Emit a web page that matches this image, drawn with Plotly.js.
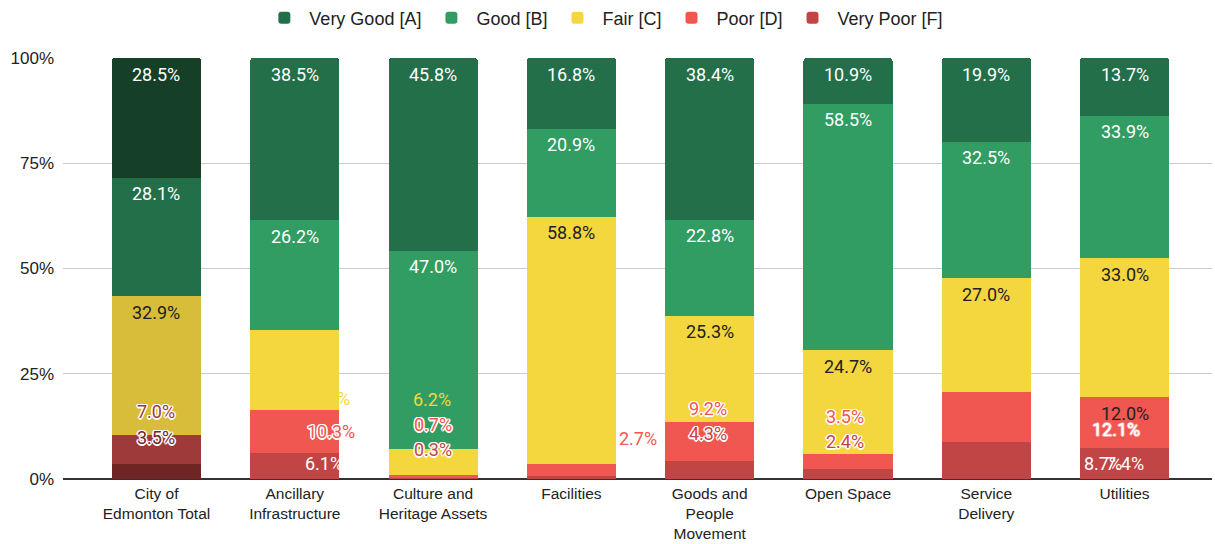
<!DOCTYPE html>
<html>
<head>
<meta charset="utf-8">
<script src="https://cdn.plot.ly/plotly-3.0.1.min.js"></script>
<style>
  html, body { margin: 0; padding: 0; background: #fff; }
  #chart { width: 1215px; height: 544px; }
</style>
</head>
<body>
<div id="chart"></div>
<script>
// ---- Data ----
const categories = [
  'City of<br>Edmonton Total',
  'Ancillary<br>Infrastructure',
  'Culture and<br>Heritage Assets',
  'Facilities',
  'Goods and<br>People<br>Movement',
  'Open Space',
  'Service<br>Delivery',
  'Utilities'
];
const veryGood = [28.5, 38.5, 45.8, 16.8, 38.4, 10.9, 19.9, 13.7];
const good     = [28.1, 26.2, 47.0, 20.9, 22.8, 58.5, 32.5, 33.9];
const fair     = [32.9, 18.9,  6.2, 58.8, 25.3, 24.7, 27.0, 33.0];
const poor     = [ 7.0, 10.3,  0.7,  2.7,  9.2,  3.5, 12.1, 12.0];
const veryPoor = [ 3.5,  6.1,  0.3,  0.8,  4.3,  2.4,  8.7,  7.4];
const seriesNames = ['Very Good [A]', 'Good [B]', 'Fair [C]', 'Poor [D]', 'Very Poor [F]'];

// ---- Styles ----
const seriesColors = ['#236f4a', '#329d62', '#f4d63e', '#f05751', '#c24545'];
const totalColors  = ['#163f27', '#236f4a', '#d7bd39', '#9e3b3a', '#6e2524']; // first (total) bar
const labelColors  = ['#ffffff', '#ffffff', '#212121', '#212121', '#ffffff'];
const halo = '1.5px 0 0 #fff, -1.5px 0 0 #fff, 0 1.5px 0 #fff, 0 -1.5px 0 #fff, 1px 1px 0 #fff, -1px -1px 0 #fff, 1px -1px 0 #fff, -1px 1px 0 #fff';
const softHalo = '1px 0 0 rgba(255,255,255,0.5), -1px 0 0 rgba(255,255,255,0.5), 0 1px 0 rgba(255,255,255,0.5), 0 -1px 0 rgba(255,255,255,0.5)';
const LABEL_DY = 16; // label centre below the top of its segment (px)

// label placement tweaks: key "seriesIndex-categoryIndex"
const labelTweaks = {
  '3-0': {dy: -23, useBar: true, halo: halo},
  '4-0': {dy: -27, useBar: true, halo: halo},
  '2-1': {dx: 31, dy: 68, useBar: true},
  '3-1': {dx: 36, dy: 22, useBar: true, halo: halo},
  '4-1': {dx: 29, dy: 10},
  '2-2': {dx: -1, dy: -49, useBar: true},
  '3-2': {dy: -50, useBar: true, halo: halo},
  '4-2': {dy: -28, useBar: true, halo: halo},
  '3-3': {dx: 67, dy: -26, useBar: true},
  '4-3': {hide: true},
  '3-4': {dx: -2, dy: -14, useBar: true, halo: halo},
  '4-4': {dx: -2, dy: -27, useBar: true, halo: halo},
  '3-5': {dx: -3, dy: -38, useBar: true, halo: halo},
  '4-5': {dx: -3, dy: -27, useBar: true, halo: halo},
  '3-6': {dx: 130, dy: 38, color: '#ffffff', halo: softHalo},
  '4-6': {dx: 117, dy: 21}
};

// ---- Build traces (bottom of stack first) ----
const seriesValues = [veryGood, good, fair, poor, veryPoor];
const barColor = (s, i) => (i === 0 ? totalColors[s] : seriesColors[s]);

const traces = [];
for (let s = seriesValues.length - 1; s >= 0; s--) {
  // highlighted total bar (first category)
  traces.push({
    type: 'bar',
    name: seriesNames[s],
    legendgroup: seriesNames[s],
    showlegend: false,
    x: categories.slice(0, 1),
    y: seriesValues[s].slice(0, 1),
    marker: {color: totalColors[s], line: {width: 0}},
    hoverinfo: 'skip'
  });
  // the asset categories
  traces.push({
    type: 'bar',
    name: seriesNames[s],
    legendgroup: seriesNames[s],
    x: categories.slice(1),
    y: seriesValues[s].slice(1),
    marker: {color: seriesColors[s], line: {width: 0}},
    hoverinfo: 'skip'
  });
}

// ---- Labels as annotations anchored to segment tops ----
const annotations = [];
categories.forEach((cat, i) => {
  const total = seriesValues.reduce((a, arr) => a + arr[i], 0);
  let cum = 0;
  const tops = [];
  for (let s = seriesValues.length - 1; s >= 0; s--) {
    cum += seriesValues[s][i];
    tops[s] = Math.min(100, Math.round(cum / total * 100 * 1e6) / 1e6);
  }
  seriesValues.forEach((arr, s) => {
    const t = labelTweaks[s + '-' + i] || {};
    if (t.hide) return;
    const color = t.color || (t.useBar ? barColor(s, i) : labelColors[s]);
    const font = {family: 'Roboto, Arial, sans-serif', size: 18, color: color};
    if (t.halo) font.shadow = t.halo;
    annotations.push({
      x: cat, y: tops[s], xref: 'x', yref: 'y',
      text: arr[i].toFixed(1) + '%',
      showarrow: false,
      xanchor: 'center', yanchor: 'middle',
      xshift: t.dx || 0,
      yshift: -(t.dy !== undefined ? t.dy : LABEL_DY),
      font: font
    });
  });
});

const layout = {
  width: 1215, height: 544,
  margin: {l: 63, r: 3, t: 58, b: 65},
  paper_bgcolor: '#ffffff', plot_bgcolor: '#ffffff',
  barmode: 'stack',
  barnorm: 'percent',
  bargap: 0.356,
  barcornerradius: 3,
  showlegend: true,
  legend: {
    orientation: 'h', traceorder: 'reversed',
    xref: 'container', yref: 'container',
    x: 0.497, xanchor: 'center', y: 0.967, yanchor: 'middle',
    itemwidth: 40,
    font: {family: 'Arial, "Liberation Sans", sans-serif', size: 18, color: '#222'},
    itemclick: false
  },
  xaxis: {
    type: 'category',
    categoryorder: 'array',
    categoryarray: categories,
    range: [-0.676, 7.632],
    showgrid: false, zeroline: false, showline: false,
    ticks: '',
    ticklabelstandoff: 3,
    tickfont: {family: 'Arial, "Liberation Sans", sans-serif', size: 15.5, color: '#222'},
    fixedrange: true
  },
  yaxis: {
    range: [0, 100],
    tickvals: [0, 25, 50, 75, 100],
    ticktext: ['0%', '25%', '50%', '75%', '100%'],
    showgrid: true, gridcolor: '#cccccc', gridwidth: 1,
    zeroline: true, zerolinecolor: '#333333', zerolinewidth: 1.5,
    showline: false, ticks: '',
    ticklabelstandoff: 8,
    tickfont: {family: 'Arial, "Liberation Sans", sans-serif', size: 17, color: '#222'},
    fixedrange: true
  },
  annotations: annotations
};

Plotly.newPlot('chart', traces, layout, {displayModeBar: false, staticPlot: true});
</script>
</body>
</html>
